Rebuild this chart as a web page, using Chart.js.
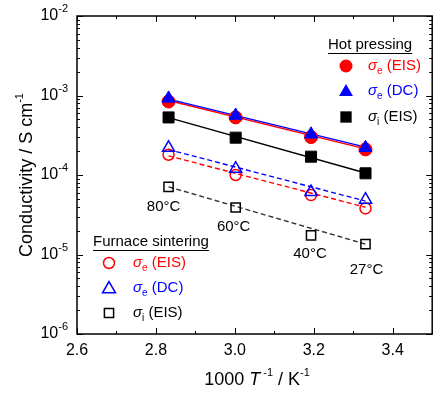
<!DOCTYPE html>
<html><head><meta charset="utf-8">
<script src="https://cdn.jsdelivr.net/npm/chart.js@4"></script>
<style>html,body{margin:0;padding:0;background:#fff}</style>
</head><body>
<canvas id="c" width="441" height="396" style="width:441px;height:396px;display:block"></canvas>
<script>
// ---- data ----
const invT = [2.832, 3.002, 3.193, 3.331];            // 1000/T (K^-1)
const tempLabels = ['80°C', '60°C', '40°C', '27°C'];
// Hot pressing
const hpSigmaE_EIS = [8.4e-4, 5.3e-4, 3.0e-4, 2.1e-4];
const hpSigmaE_DC  = [9.2e-4, 5.6e-4, 3.25e-4, 2.2e-4];
const hpSigmaI_EIS = [5.3e-4, 2.95e-4, 1.7e-4, 1.05e-4];
// Furnace sintering
const fsSigmaE_EIS = [1.8e-4, 1.0e-4, 5.6e-5, 3.8e-5];
const fsSigmaE_DC  = [2.2e-4, 1.2e-4, 6.1e-5, 4.9e-5];
const fsSigmaI_EIS = [7.1e-5, 3.9e-5, 1.74e-5, 1.35e-5];
// Arrhenius fit lines (end values at first and last 1000/T)
const fitX = [2.832, 3.331];
const hpFitE_EIS = [8.65e-4, 2.13e-4];
const hpFitE_DC  = [9.0e-4, 2.24e-4];
const hpFitI_EIS = [5.27e-4, 1.06e-4];
const fsFitE_EIS = [1.74e-4, 3.93e-5];
const fsFitE_DC  = [2.09e-4, 4.7e-5];
const fsFitI_EIS = [7.1e-5, 1.35e-5];
// axis ticks
const xTicks = [2.6, 2.8, 3.0, 3.2, 3.4];
const xTickLabels = ['2.6', '2.8', '3.0', '3.2', '3.4'];
const yTickExps = [-2, -3, -4, -5, -6];

const RED = '#ff0000', BLUE = '#0000ff', BLACK = '#000000';
const FONT = '"Liberation Sans", Arial, sans-serif';

const pts = (xs, ys) => xs.map((x, i) => ({x, y: ys[i]}));
const fit = (ys, color, dash, order) => ({
  data: pts(fitX, ys), showLine: true, borderColor: color, borderWidth: 1.4,
  borderDash: dash, pointRadius: 0, order
});
const marks = (ys, style, r, color, filled, order) => ({
  data: pts(invT, ys), showLine: false, pointStyle: style, pointRadius: r,
  pointBackgroundColor: filled ? color : 'rgba(0,0,0,0)', pointBorderColor: color,
  pointBorderWidth: filled ? 1 : 1.5, order
});

function rich(ctx, x, y, parts, align) {
  let w = 0;
  parts.forEach(p => { ctx.font = (p.italic ? 'italic ' : '') + p.size + 'px ' + FONT; p.w = ctx.measureText(p.t).width; w += p.w; });
  let cx = align === 'right' ? x - w : align === 'center' ? x - w / 2 : x;
  ctx.textBaseline = 'middle'; ctx.textAlign = 'left';
  parts.forEach(p => {
    ctx.font = (p.italic ? 'italic ' : '') + p.size + 'px ' + FONT;
    ctx.fillStyle = p.color || BLACK;
    ctx.fillText(p.t, cx, y + (p.dy || 0));
    cx += p.w;
  });
  return w;
}

function marker(ctx, type, x, y, r, color, filled) {
  ctx.save();
  ctx.beginPath();
  if (type === 'circle') ctx.arc(x, y, r, 0, Math.PI * 2);
  else if (type === 'triangle') {
    ctx.moveTo(x, y - r); ctx.lineTo(x + r * 0.866, y + r * 0.5);
    ctx.lineTo(x - r * 0.866, y + r * 0.5); ctx.closePath();
  } else { const s = r * Math.SQRT1_2; ctx.rect(x - s, y - s, 2 * s, 2 * s); }
  if (filled) { ctx.fillStyle = color; ctx.fill(); }
  else { ctx.lineWidth = 1.5; ctx.strokeStyle = color; ctx.stroke(); }
  ctx.restore();
}

const sig = (sub, rest, color) => [
  {t: 'σ', size: 15, italic: true, color},
  {t: sub, size: 10, dy: 5, color},
  {t: ' ' + rest, size: 15, color}
];

const deco = {
  id: 'deco',
  afterDatasetsDraw(chart) {
    const ctx = chart.ctx, a = chart.chartArea, xs = chart.scales.x, ys = chart.scales.y;
    ctx.save();
    ctx.strokeStyle = BLACK; ctx.lineWidth = 1.5;
    ctx.strokeRect(a.left, a.top, a.right - a.left, a.bottom - a.top);
    ctx.lineWidth = 1;
    for (let k = 0; k <= 9; k++) {
      const v = 2.6 + k * 0.1;
      const px = Math.round(xs.getPixelForValue(v)) + 0.5;
      const L = k % 2 === 0 ? 6 : 3;
      ctx.beginPath();
      ctx.moveTo(px, a.bottom); ctx.lineTo(px, a.bottom - L);
      ctx.moveTo(px, a.top); ctx.lineTo(px, a.top + L);
      ctx.stroke();
    }
    for (let e = -6; e <= -2; e++) {
      for (let m = 1; m <= 9; m++) {
        if (e === -2 && m > 1) break;
        const v = m * Math.pow(10, e);
        const py = Math.round(ys.getPixelForValue(v)) + 0.5;
        const L = m === 1 ? 6 : 3;
        ctx.beginPath();
        ctx.moveTo(a.left, py); ctx.lineTo(a.left + L, py);
        ctx.moveTo(a.right, py); ctx.lineTo(a.right - L, py);
        ctx.stroke();
      }
    }
    ctx.fillStyle = BLACK; ctx.font = '16px ' + FONT; ctx.textAlign = 'center'; ctx.textBaseline = 'middle';
    xTicks.forEach((v, i) => ctx.fillText(xTickLabels[i], xs.getPixelForValue(v), a.bottom + 17));
    yTickExps.forEach(e => {
      const py = ys.getPixelForValue(Math.pow(10, e));
      ctx.font = '11px ' + FONT;
      const sw = ctx.measureText(String(e)).width;
      rich(ctx, 68 - sw, py, [{t: '10', size: 16}], 'right');
      rich(ctx, 68 - sw, py - 7, [{t: String(e), size: 11}], 'left');
    });
    rich(ctx, 257, 380, [
      {t: '1000 ', size: 18}, {t: 'T', size: 18, italic: true}, {t: ' -1', size: 11, dy: -7},
      {t: ' / K', size: 18}, {t: '-1', size: 11, dy: -7}
    ], 'center');
    ctx.save();
    ctx.translate(27, (a.top + a.bottom) / 2); ctx.rotate(-Math.PI / 2);
    rich(ctx, 0, 0, [{t: 'Conductivity / S cm', size: 18}, {t: '-1', size: 11, dy: -7}], 'center');
    ctx.restore();
    const off = [[-5, 20], [-2, 19], [-1, 18], [1, 26]];
    ctx.font = '15px ' + FONT; ctx.textAlign = 'center'; ctx.textBaseline = 'middle'; ctx.fillStyle = BLACK;
    tempLabels.forEach((t, i) => ctx.fillText(t, xs.getPixelForValue(invT[i]) + off[i][0], ys.getPixelForValue(fsSigmaI_EIS[i]) + off[i][1]));
    let w = rich(ctx, 328, 45, [{t: 'Hot pressing', size: 15}], 'left');
    ctx.beginPath(); ctx.moveTo(328, 53.5); ctx.lineTo(328 + w, 53.5); ctx.strokeStyle = BLACK; ctx.lineWidth = 1; ctx.stroke();
    marker(ctx, 'circle', 346, 66, 6.5, RED, true);
    rich(ctx, 368, 66, sig('e', '(EIS)', RED), 'left');
    marker(ctx, 'triangle', 346, 92, 8, BLUE, true);
    rich(ctx, 368, 91, sig('e', '(DC)', BLUE), 'left');
    marker(ctx, 'rect', 346, 117, 8, BLACK, true);
    rich(ctx, 368, 117, sig('i', '(EIS)', BLACK), 'left');
    w = rich(ctx, 93, 242, [{t: 'Furnace sintering', size: 15}], 'left');
    ctx.beginPath(); ctx.moveTo(93, 250.5); ctx.lineTo(93 + w, 250.5); ctx.strokeStyle = BLACK; ctx.lineWidth = 1; ctx.stroke();
    marker(ctx, 'circle', 109, 263, 5.5, RED, false);
    rich(ctx, 133, 263, sig('e', '(EIS)', RED), 'left');
    marker(ctx, 'triangle', 109, 289, 7.5, BLUE, false);
    rich(ctx, 133, 288, sig('e', '(DC)', BLUE), 'left');
    marker(ctx, 'rect', 109, 313, 6.5, BLACK, false);
    rich(ctx, 133, 313, sig('i', '(EIS)', BLACK), 'left');
    ctx.restore();
  }
};

new Chart(document.getElementById('c'), {
  type: 'scatter',
  data: {
    datasets: [
      marks(hpSigmaE_DC, 'triangle', 7.5, BLUE, true, 1),
      marks(hpSigmaE_EIS, 'circle', 6.5, RED, true, 2),
      marks(hpSigmaI_EIS, 'rect', 7.8, BLACK, true, 3),
      marks(fsSigmaE_DC, 'triangle', 7, BLUE, false, 4),
      marks(fsSigmaE_EIS, 'circle', 5.5, RED, false, 5),
      marks(fsSigmaI_EIS, 'rect', 6.5, BLACK, false, 6),
      fit(hpFitE_DC, BLUE, [], 7),
      fit(hpFitE_EIS, RED, [], 8),
      fit(hpFitI_EIS, BLACK, [], 9),
      fit(fsFitE_DC, BLUE, [5, 3], 10),
      fit(fsFitE_EIS, RED, [5, 3], 11),
      fit(fsFitI_EIS, '#333333', [5, 3], 12)
    ]
  },
  options: {
    responsive: false, animation: false, devicePixelRatio: 1,
    layout: {padding: {left: 77, top: 16, right: 5, bottom: 62}},
    plugins: {legend: {display: false}, tooltip: {enabled: false}},
    scales: {
      x: {type: 'linear', min: 2.6, max: 3.5, display: false},
      y: {type: 'logarithmic', min: 1e-6, max: 1e-2, display: false}
    }
  },
  plugins: [deco]
});
</script>
</body></html>
